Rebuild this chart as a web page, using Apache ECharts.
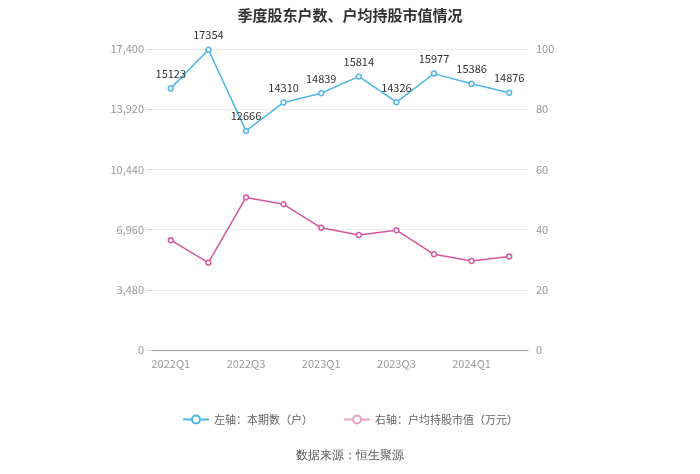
<!DOCTYPE html>
<html><head><meta charset="utf-8">
<script src="https://cdn.jsdelivr.net/npm/echarts@6/dist/echarts.min.js"></script>
<style>html,body{margin:0;padding:0;background:#fff}#c{width:700px;height:474px}</style>
</head><body><div id="c"></div>
<script>
const categories = ['2022Q1','2022Q2','2022Q3','2022Q4','2023Q1','2023Q2','2023Q3','2023Q4','2024Q1','2024Q2'];
const holders = [15123,17354,12666,14310,14839,15814,14326,15977,15386,14876];
const avgValue = [36.5,29.0,50.7,48.4,40.6,38.2,39.8,31.8,29.6,31.1];
const leftTicks = {min:0, max:17400, interval:3480};
const rightTicks = {min:0, max:100, interval:20};
const blue = '#4db6e8', pink = '#d4579b';
const chart = echarts.init(document.getElementById('c'));
chart.setOption({
  animation:false,
  textStyle:{fontFamily:'"Noto Sans CJK SC","Noto Sans",sans-serif'},
  title:{text:'季度股东户数、户均持股市值情况',left:'center',top:3,textStyle:{fontSize:15,fontWeight:'bold',color:'#333'}},
  legend:{bottom:44,left:'center',itemGap:30,itemWidth:26,itemHeight:10,textStyle:{fontSize:11,color:'#666'},
    data:[{name:'左轴：本期数（户）'},{name:'右轴：户均持股市值（万元）',itemStyle:{color:'#fff',borderColor:'#eaa3c9'},lineStyle:{color:'#eaa3c9'}}]},
  graphic:[{type:'text',left:'center',top:450,style:{text:'数据来源：恒生聚源',fontSize:12,fill:'#555',font:'12px "Noto Sans CJK SC"'}}],
  grid:{left:152,right:172,top:49,bottom:124},
  xAxis:{type:'category',data:categories,boundaryGap:true,
    axisLine:{lineStyle:{color:'#999'}},axisTick:{alignWithLabel:true,lineStyle:{color:'#999'}},
    axisLabel:{color:'#999',fontSize:11,interval:1,margin:8}},
  yAxis:[
    {type:'value',min:leftTicks.min,max:leftTicks.max,interval:leftTicks.interval,
     axisLine:{show:false},axisTick:{show:true,length:5,lineStyle:{color:'#ccc'}},
     axisLabel:{color:'#999',fontSize:11,formatter:v=>v.toLocaleString('en-US')},
     splitLine:{lineStyle:{color:'#eee'}}},
    {type:'value',min:rightTicks.min,max:rightTicks.max,interval:rightTicks.interval,
     axisLine:{show:false},axisTick:{show:false},
     axisLabel:{color:'#999',fontSize:11},splitLine:{show:false}}
  ],
  series:[
    {name:'左轴：本期数（户）',type:'line',yAxisIndex:0,data:holders,symbol:'circle',symbolSize:5,
     itemStyle:{color:'#fff',borderColor:blue,borderWidth:1.5},lineStyle:{color:blue,width:1.5},
     label:{show:true,position:'top',color:'#333',fontSize:11,distance:6}},
    {name:'右轴：户均持股市值（万元）',type:'line',yAxisIndex:1,data:avgValue,symbol:'circle',symbolSize:5,
     itemStyle:{color:'#fff',borderColor:pink,borderWidth:1.5},lineStyle:{color:pink,width:1.5}}
  ]
});
</script></body></html>
